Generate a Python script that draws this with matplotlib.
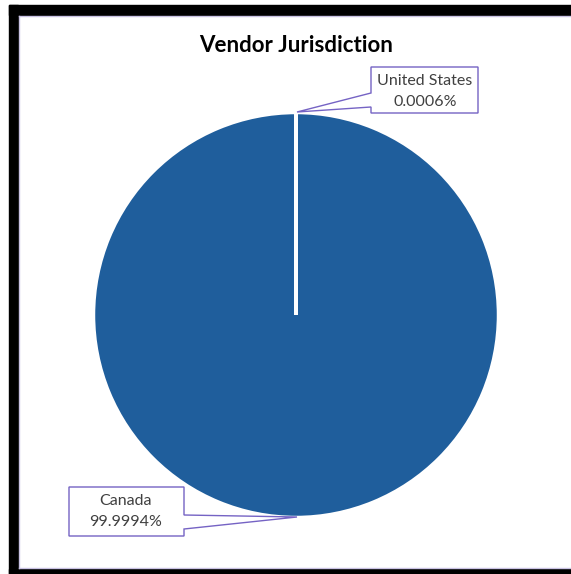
import matplotlib
matplotlib.use("Agg")
import matplotlib.pyplot as plt
from matplotlib.patches import Rectangle, Polygon

categories = ["Canada", "United States"]
values = [99.9994, 0.0006]
pct_labels = ["99.9994%", "0.0006%"]
title = "Vendor Jurisdiction"

W, H = 571, 574
fig = plt.figure(figsize=(W / 100, H / 100), dpi=100)
ax = fig.add_axes([0, 0, 1, 1])

# frame
ax.add_patch(Rectangle((9, 5), W - 9, 10, color="black", zorder=1))
ax.add_patch(Rectangle((9, 5), 9, H - 5, color="black", zorder=1))
ax.add_patch(Rectangle((9, 569), W - 9, 6, color="black", zorder=1))
ax.plot([19, W], [16, 16], color="#c9c2e3", lw=1, zorder=1)
ax.plot([19, 19], [16, 568], color="#c9c2e3", lw=1, zorder=1)
ax.plot([19, W], [568, 568], color="#c9c2e3", lw=1, zorder=1)

# pie (pixel coordinates with inverted y)
cx, cy, r = 296, 315, 202.5
ax.pie(values, center=(cx, cy), radius=r, startangle=-90, counterclock=True,
       colors=["#1f5e9c", "#1f5e9c"],
       wedgeprops=dict(edgecolor="white", linewidth=2.5), frame=True)
ax.set_xlim(0, W)
ax.set_ylim(H, 0)
ax.set_aspect("auto")
ax.axis("off")

ax.text(296, 45, title, ha="center", va="center", fontsize=16,
        fontweight="bold", family="Lato", color="black", zorder=5)

box_ec = "#7563c4"
txt_c = "#404040"
fs = 11.5

# United States callout
us = Polygon([(371, 67), (478, 67), (478, 113), (371, 113), (371, 107),
              (297, 112), (371, 93)], closed=True, facecolor="white",
             edgecolor=box_ec, lw=1, zorder=4)
ax.add_patch(us)
ax.text(425, 81, categories[1], ha="center", va="center", fontsize=fs,
        family="Lato", color=txt_c, zorder=5)
ax.text(425, 102, pct_labels[1], ha="center", va="center", fontsize=fs,
        family="Lato", color=txt_c, zorder=5)

# Canada callout
ca = Polygon([(69, 487), (184, 487), (184, 515), (297, 517), (184, 529),
              (184, 536), (69, 536)], closed=True, facecolor="white",
             edgecolor=box_ec, lw=1, zorder=4)
ax.add_patch(ca)
ax.text(126, 501, categories[0], ha="center", va="center", fontsize=fs,
        family="Lato", color=txt_c, zorder=5)
ax.text(126, 522, pct_labels[0], ha="center", va="center", fontsize=fs,
        family="Lato", color=txt_c, zorder=5)

fig.savefig("out.png", dpi=100)
